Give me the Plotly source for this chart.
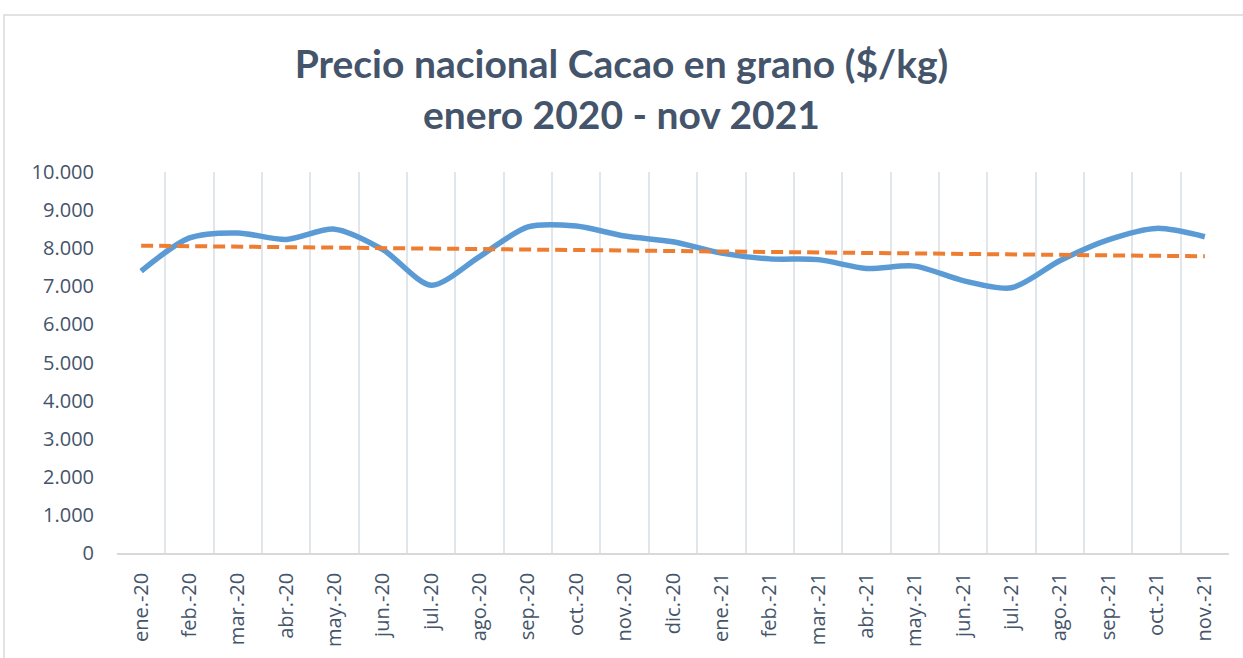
import numpy as np
import plotly.graph_objects as go

months = ["ene.-20", "feb.-20", "mar.-20", "abr.-20", "may.-20", "jun.-20", "jul.-20",
          "ago.-20", "sep.-20", "oct.-20", "nov.-20", "dic.-20", "ene.-21", "feb.-21",
          "mar.-21", "abr.-21", "may.-21", "jun.-21", "jul.-21", "ago.-21", "sep.-21",
          "oct.-21", "nov.-21"]
precio = [7400, 8270, 8400, 8230, 8500, 7960, 7030, 7780, 8560, 8580, 8320, 8170,
          7870, 7720, 7700, 7470, 7530, 7150, 6960, 7670, 8220, 8520, 8300]

# Linear trendline (least squares) as in the spreadsheet chart
idx = np.arange(len(precio))
slope, intercept = np.polyfit(idx, precio, 1)
trend = list(slope * idx + intercept)

fig = go.Figure()
fig.add_trace(go.Scatter(
    x=months, y=precio, mode="lines", line=dict(color="#5B9BD5", width=5.5, shape="spline", smoothing=0.8),
    name="Precio", showlegend=False))
fig.add_trace(go.Scatter(
    x=months, y=trend, mode="lines", line=dict(color="#ED7D31", width=4, dash="12px,6px"),
    name="Tendencia", showlegend=False))

fig.update_layout(
    width=1243, height=658,
    margin=dict(l=117, r=14, t=172, b=105),
    paper_bgcolor="white", plot_bgcolor="white",
    title=dict(text="Precio nacional Cacao en grano ($/kg)<br>enero 2020 - nov 2021",
               x=0.5, xanchor="center", y=0.881, yanchor="middle",
               font=dict(family="Lato", size=39, color="#44546A", weight="bold")),
    separators=",.",
    xaxis=dict(type="category", range=[-0.5, len(months) - 0.5], tickson="boundaries",
               showgrid=True, gridcolor="#E1E5EC", gridwidth=1.5,
               showline=True, linecolor="#D9D9D9", linewidth=1.5,
               ticks="", tickangle=-90, ticklabelstandoff=10,
               tickfont=dict(family="Open Sans", size=20, color="#44546A")),
    yaxis=dict(range=[0, 10000], dtick=1000, tickformat=",d", showgrid=False,
               zeroline=False, showline=False, ticks="", ticklabelstandoff=22,
               tickfont=dict(family="Open Sans", size=20, color="#44546A")),
    shapes=[dict(type="rect", xref="paper", yref="paper",
                 x0=-0.1016, x1=1.05, y0=-0.5, y1=1.412,
                 line=dict(color="#D9D9D9", width=1.5), layer="below")],
)

fig.write_html("out.html", config={"displayModeBar": False},
               post_script="document.body.style.margin='0px';")
